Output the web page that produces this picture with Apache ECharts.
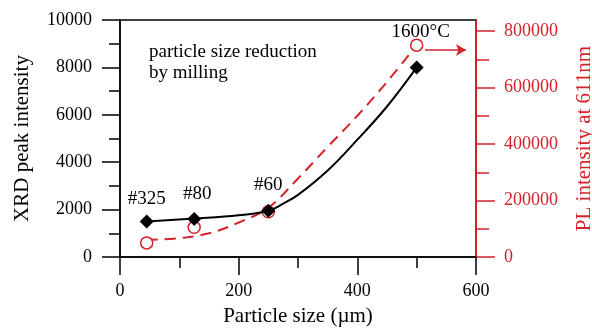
<!DOCTYPE html>
<html>
<head>
<meta charset="utf-8">
<script src="https://cdn.jsdelivr.net/npm/echarts@6/dist/echarts.min.js"></script>
<style>
  html, body { margin: 0; padding: 0; background: #fff; }
  #show_picture { width: 592px; height: 332px; }
</style>
</head>
<body>
<div id="show_picture"></div>
<script>
// measured samples
const sizes = [45, 125, 250, 500];
const xrdValues = [1500, 1600, 1950, 8000];
const plValues = [50000, 105000, 160000, 750000];
const sampleLabels = ['#325', '#80', '#60', ''];

// fitted curves
const xrdCurveX = [45, 125, 200, 250, 275, 300, 350, 400, 450, 500];
const xrdCurveY = [1500, 1620, 1760, 1950, 2250, 2620, 3650, 4950, 6350, 8000];
const plCurveX = [45, 100, 150, 200, 250, 300, 350, 400, 450, 500];
const plCurveY = [60000, 67000, 84000, 122000, 175000, 278000, 390000, 500000, 620000, 750000];

// ticks of the PL axis
const plMajorTicks = [0, 200000, 400000, 600000, 800000];
const plMinorTicks = [100000, 300000, 500000, 700000];

const red = '#d2232a';
const font = 'Liberation Serif';

let myChart = echarts.init(document.getElementById('show_picture'));

let zip = (a, b) => a.map((v, i) => [v, b[i]]);
let plain = v => String(v);

let option = {
    animation: false,
    textStyle: { fontFamily: font },
    grid: {
        left: 120, right: 116, top: 20, bottom: 75,
        outerBoundsMode: 'none', containLabel: false,
        show: true, borderColor: '#000', borderWidth: 1.5
    },
    xAxis: {
        type: 'value', min: 0, max: 600, interval: 200,
        name: 'Particle size (\u00b5m)', nameLocation: 'middle', nameGap: 49,
        nameTextStyle: { fontFamily: font, fontSize: 21, color: '#000' },
        axisLine: { lineStyle: { color: '#000', width: 1.5 } },
        axisTick: { length: 18, lineStyle: { color: '#000', width: 1.5 } },
        minorTick: { show: true, splitNumber: 2, length: 11, lineStyle: { color: '#000', width: 1.5 } },
        axisLabel: { margin: 25, formatter: plain, fontFamily: font, fontSize: 18, color: '#000' },
        splitLine: { show: false }
    },
    yAxis: [
        {
            type: 'value', min: 0, max: 10000, interval: 2000, position: 'left',
            name: 'XRD peak intensity', nameLocation: 'middle', nameGap: 87, nameRotate: 90,
            nameTextStyle: { fontFamily: font, fontSize: 21, color: '#000' },
            axisLine: { show: true, lineStyle: { color: '#000', width: 1.5 } },
            axisTick: { length: 18, lineStyle: { color: '#000', width: 1.5 } },
            minorTick: { show: true, splitNumber: 2, length: 11, lineStyle: { color: '#000', width: 1.5 } },
            axisLabel: { margin: 28, formatter: plain, fontFamily: font, fontSize: 18, color: '#000' },
            splitLine: { show: false }
        },
        {
            type: 'value', min: 0, max: 839000, position: 'right', alignTicks: false,
            name: 'PL intensity at 611nm', nameLocation: 'middle', nameGap: 98, nameRotate: 90,
            nameTextStyle: { fontFamily: font, fontSize: 21, color: red },
            axisLine: { show: true, lineStyle: { color: red, width: 1.5 } },
            axisTick: { length: 19, customValues: plMajorTicks, lineStyle: { color: red, width: 1.5 } },
            axisLabel: { margin: 28, customValues: plMajorTicks, formatter: plain, fontFamily: font, fontSize: 18, color: red },
            splitLine: { show: false }
        },
        {
            type: 'value', min: 0, max: 839000, position: 'right', alignTicks: false,
            axisLine: { show: true, lineStyle: { color: red, width: 1.5 } },
            axisTick: { length: 13, customValues: plMinorTicks, lineStyle: { color: red, width: 1.5 } },
            axisLabel: { show: false },
            splitLine: { show: false }
        }
    ],
    graphic: [
        {
            type: 'text', left: 149, top: 42,
            style: {
                text: 'particle size reduction\nby milling',
                font: '19px "Liberation Serif"', lineHeight: 21, fill: '#000'
            }
        }
    ],
    series: [
        {
            type: 'line', yAxisIndex: 1, z: 2,
            data: zip(plCurveX, plCurveY),
            smooth: 0.4, showSymbol: false, silent: true,
            lineStyle: { color: red, width: 2, type: [11, 7] }
        },
        {
            type: 'scatter', yAxisIndex: 1, z: 3,
            data: sizes.map((s, i) => ({
                value: [s, plValues[i]],
                label: i === 3
                    ? { show: true, formatter: '1600\u00b0C', position: 'top', distance: 0, offset: [4, 3], fontFamily: font, fontSize: 19, color: '#000' }
                    : { show: false }
            })),
            symbol: 'circle', symbolSize: 12,
            itemStyle: { color: '#fff', borderColor: red, borderWidth: 1.5, opacity: 1 },
            markLine: {
                silent: true,
                symbol: ['none', 'arrow'], symbolSize: [9, 10],
                label: { show: false },
                lineStyle: { color: red, width: 1.5, type: 'solid' },
                data: [[{ coord: [514, 733000] }, { coord: [583, 733000] }]]
            }
        },
        {
            type: 'line', yAxisIndex: 0, z: 4,
            data: zip(xrdCurveX, xrdCurveY),
            smooth: 0.4, showSymbol: false, silent: true,
            lineStyle: { color: '#000', width: 2 }
        },
        {
            type: 'scatter', yAxisIndex: 0, z: 5,
            data: sizes.map((s, i) => ({
                value: [s, xrdValues[i]],
                label: {
                    show: sampleLabels[i] !== '', formatter: sampleLabels[i], position: 'top',
                    distance: i === 0 ? 6 : 9, offset: i === 1 ? [3, 0] : [0, 0]
                }
            })),
            symbol: 'diamond', symbolSize: 14,
            itemStyle: { color: '#000', opacity: 1 },
            label: { fontFamily: font, fontSize: 19, color: '#000' }
        }
    ]
};

option && myChart.setOption(option);
</script>
</body>
</html>
